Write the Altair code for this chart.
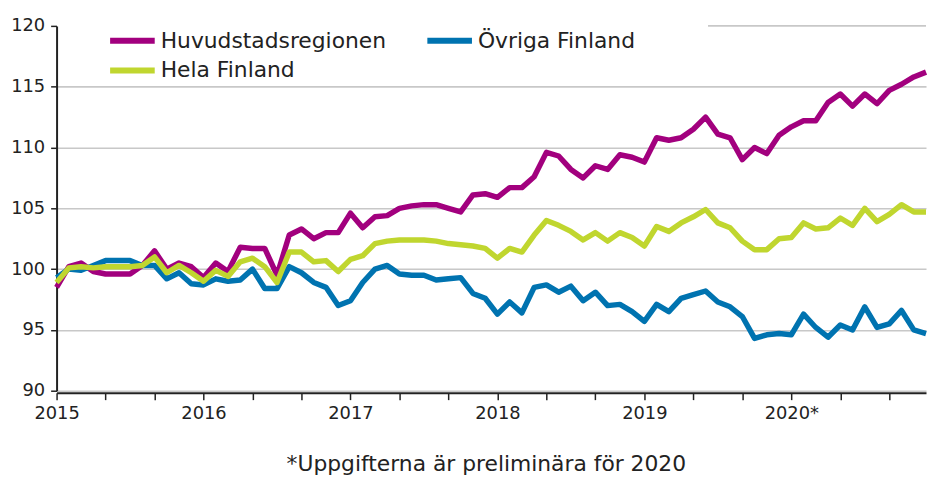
import altair as alt
import pandas as pd

years = [2015, 2016, 2017, 2018, 2019, 2020]
months = [f"{y}M{m:02d}" for y in years for m in range(1, 13)]

series_names = ["Huvudstadsregionen", "Övriga Finland", "Hela Finland"]
series_colors = ["#a2007e", "#0073b0", "#c0d62f"]
# legend is filled column by column: first column Huvudstadsregionen + Hela Finland
legend_order = ["Huvudstadsregionen", "Hela Finland", "Övriga Finland"]
legend_colors = ["#a2007e", "#c0d62f", "#0073b0"]

huvudstadsregionen = [
    98.5, 100.2, 100.5, 99.8, 99.6, 99.6, 99.6, 100.3, 101.5, 100.0, 100.5, 100.2,
    99.3, 100.5, 99.8, 101.8, 101.7, 101.7, 99.5, 102.8, 103.3, 102.5, 103.0, 103.0,
    104.6, 103.4, 104.3, 104.4, 105.0, 105.2, 105.3, 105.3, 105.0, 104.7, 106.1, 106.2,
    105.9, 106.7, 106.7, 107.6, 109.6, 109.3, 108.2, 107.5, 108.5, 108.2, 109.4, 109.2,
    108.8, 110.8, 110.6, 110.8, 111.5, 112.5, 111.1, 110.8, 109.0, 110.0, 109.5, 111.0,
    111.7, 112.2, 112.2, 113.7, 114.4, 113.4, 114.4, 113.6, 114.7, 115.2, 115.8, 116.2,
]
ovriga_finland = [
    99.3, 100.0, 99.9, 100.3, 100.7, 100.7, 100.7, 100.3, 100.3, 99.2, 99.7, 98.8,
    98.7, 99.2, 99.0, 99.1, 100.0, 98.4, 98.4, 100.2, 99.7, 98.9, 98.5, 97.0,
    97.4, 98.9, 100.0, 100.3, 99.6, 99.5, 99.5, 99.1, 99.2, 99.3, 98.0, 97.6,
    96.3, 97.3, 96.4, 98.5, 98.7, 98.1, 98.6, 97.4, 98.1, 97.0, 97.1, 96.5,
    95.7, 97.1, 96.5, 97.6, 97.9, 98.2, 97.3, 96.9, 96.1, 94.3, 94.6, 94.7,
    94.6, 96.3, 95.2, 94.4, 95.4, 95.0, 96.9, 95.2, 95.5, 96.6, 95.0, 94.7,
]
hela_finland = [
    98.9, 100.1, 100.2, 100.1, 100.2, 100.2, 100.2, 100.3, 101.0, 99.7, 100.3, 99.7,
    99.0, 99.9, 99.4, 100.6, 100.9, 100.2, 98.9, 101.4, 101.4, 100.6, 100.7, 99.8,
    100.8, 101.1, 102.1, 102.3, 102.4, 102.4, 102.4, 102.3, 102.1, 102.0, 101.9, 101.7,
    100.9, 101.7, 101.4, 102.8, 104.0, 103.6, 103.1, 102.4, 103.0, 102.3, 103.0, 102.6,
    101.9, 103.5, 103.1, 103.8, 104.3, 104.9, 103.8, 103.4, 102.3, 101.6, 101.6, 102.5,
    102.6, 103.8, 103.3, 103.4, 104.2, 103.6, 105.0, 103.9, 104.5, 105.3, 104.7, 104.7,
]

y_ticks = [90, 95, 100, 105, 110, 115, 120]
footnote = "*Uppgifterna är preliminära för 2020"
# visible part of the top gridline (the rest is hidden behind the legend)
top_grid_from = 53.2

rows = []
for name, vals in zip(series_names, [huvudstadsregionen, ovriga_finland, hela_finland]):
    for i, (m, v) in enumerate(zip(months, vals)):
        rows.append({"serie": name, "t": i, "month": m, "value": v})
df = pd.DataFrame(rows)

n = len(months)
x_scale = alt.Scale(domain=[0, n - 1], nice=False, zero=False)
y_scale = alt.Scale(domain=[90, 120], nice=False, zero=False)

label_expr = ("datum.value % 12 == 0 ? (2015 + datum.value / 12) + "
              "(datum.value == 60 ? '*' : '') : ''")

lines = alt.Chart(df).mark_line(strokeWidth=5.5, strokeJoin="round").encode(
    x=alt.X("t:Q", scale=x_scale, title=None,
            axis=alt.Axis(values=list(range(n)), labelExpr=label_expr,
                          labelOverlap=False, labelFlush=False, grid=False,
                          tickSize=7, tickWidth=1.5, tickColor="#222",
                          domainColor="#222", domainWidth=2, offset=2,
                          labelFont="DejaVu Sans", labelFontSize=18,
                          labelColor="#222", labelPadding=5)),
    y=alt.Y("value:Q", scale=y_scale, title=None,
            axis=alt.Axis(values=y_ticks, tickSize=6, tickWidth=1.5,
                          tickColor="#222", domainColor="#222", domainWidth=2,
                          labelFont="DejaVu Sans", labelFontSize=18,
                          labelColor="#222", labelPadding=6,
                          gridColor={"condition": {"test": "datum.value == 120",
                                                   "value": "transparent"},
                                     "value": "#c8c8c8"},
                          gridWidth=1.6)),
    color=alt.Color("serie:N",
                    scale=alt.Scale(domain=legend_order, range=legend_colors),
                    legend=alt.Legend(orient="none", legendX=64.5, legendY=3,
                                      columns=2, title=None,
                                      symbolType="M-2.5,0H2.5", symbolSize=324,
                                      symbolStrokeWidth=6,
                                      labelFont="DejaVu Sans", labelFontSize=22,
                                      labelColor="#222", labelOffset=16.5,
                                      labelLimit=600, columnPadding=29,
                                      rowPadding=6, padding=0)),
    detail="serie:N",
)

top_grid = pd.DataFrame({"x": [top_grid_from], "x2": [n - 1], "y": [120]})
top_rule = alt.Chart(top_grid).mark_rule(color="#c8c8c8", strokeWidth=1.6).encode(
    x=alt.X("x:Q", scale=x_scale), x2="x2:Q", y=alt.Y("y:Q", scale=y_scale)
)

chart = alt.layer(top_rule, lines).properties(
    width=877,
    height=368,
    padding={"left": 49, "top": 16, "right": 1, "bottom": 86},
    autosize=alt.AutoSizeParams(type="none"),
    title=alt.TitleParams(text=footnote, orient="bottom", anchor="middle",
                          font="DejaVu Sans", fontSize=22, fontWeight="normal",
                          color="#222", offset=32, dx=-5),
).configure_view(stroke=None)

chart.save("out.html", embed_options={"renderer": "svg", "actions": False})
